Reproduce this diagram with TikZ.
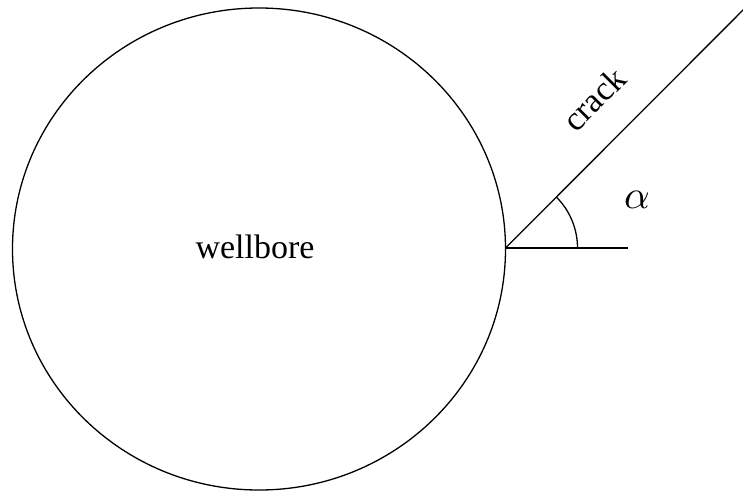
\documentclass[tikz,border=0pt]{standalone}
\usepackage{fontspec}
\setmainfont{Liberation Serif}
\usepackage{unicode-math}
\setmathfont{Latin Modern Math}
\begin{document}
\begin{tikzpicture}[x=1pt,y=-1pt,line width=1.3pt,
  lbl/.style={inner sep=0pt,font=\fontsize{34}{40}\selectfont}]
\useasboundingbox (0,0) rectangle (743,491);
\fill[white] (0,0) rectangle (743,491);
\coordinate (c) at (259,249);
\draw (c) ellipse [x radius=246.5, y radius=241];
\coordinate (o) at (505.5,248);
\coordinate (h) at (628,248);
\coordinate (t) at (770,-17);
\draw (o) -- (h);
\draw (o) -- (t);
\draw (o) ++(72,0) arc[start angle=0,end angle=-45,radius=72];
\node[lbl,anchor=base] (w) at (255,258) {wellbore};
\node[lbl,rotate=45] (cr) at (594,99) {crack};
\node[inner sep=0pt,font=\fontsize{40}{46}\selectfont] (a) at (637,200) {$\alpha$};
\end{tikzpicture}
\end{document}
